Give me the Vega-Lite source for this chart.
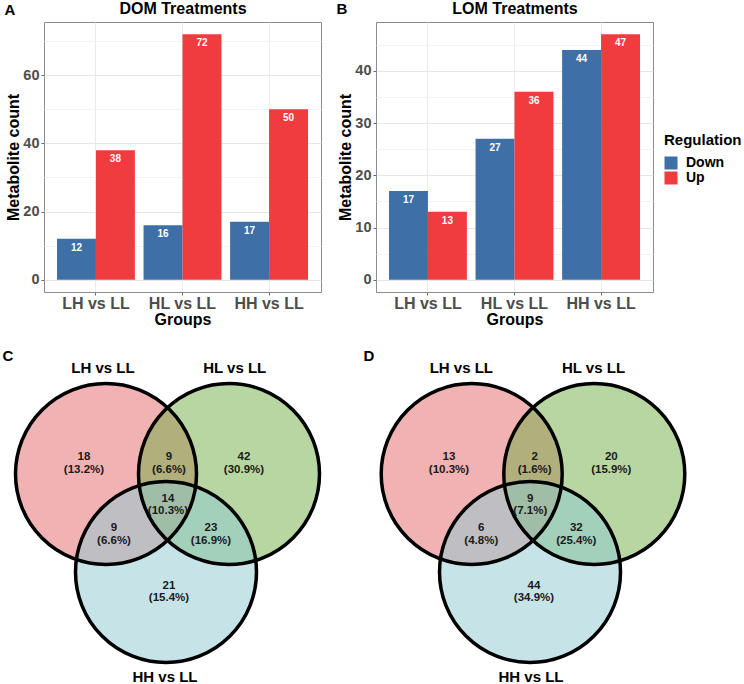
{
  "$schema": "https://vega.github.io/schema/vega-lite/v6.json",
  "padding": {"left": 2, "top": -1, "right": 0, "bottom": 0},
  "background": "white",
  "config": {
    "font": "Liberation Sans",
    "view": {"stroke": "#8c8c8c", "strokeWidth": 1},
    "axis": {"labelFont": "Liberation Sans", "titleFont": "Liberation Sans", "labelFontWeight": "bold", "titleFontWeight": "bold", "labelColor": "#4d4d4d", "titleColor": "#000000", "gridColor": "#ebebeb", "tickColor": "#666666", "domain": false},
    "legend": {"titleFont": "Liberation Sans", "labelFont": "Liberation Sans", "titleFontSize": 15, "titleFontWeight": "bold", "titleColor": "#000000", "labelFontSize": 14, "labelFontWeight": "bold", "labelColor": "#000000", "symbolType": "square", "symbolSize": 169, "symbolStrokeWidth": 0, "symbolOpacity": 1, "rowPadding": 1, "titlePadding": 8, "labelOffset": 8},
    "text": {"font": "Liberation Sans"}
  },
  "resolve": {"scale": {"color": "independent"}},
  "spacing": 19,
  "vconcat": [
    {
      "spacing": 13,
      "hconcat": [
        {
          "width": 277, "height": 270,
          "data": {"values": [
            {"Group": "LH vs LL", "Regulation": "Down", "count": 12},
            {"Group": "LH vs LL", "Regulation": "Up", "count": 38},
            {"Group": "HL vs LL", "Regulation": "Down", "count": 16},
            {"Group": "HL vs LL", "Regulation": "Up", "count": 72},
            {"Group": "HH vs LL", "Regulation": "Down", "count": 17},
            {"Group": "HH vs LL", "Regulation": "Up", "count": 50}
          ]},
          "layer": [
            {
              "mark": {"type": "bar"},
              "encoding": {
                "x": {"field": "Group", "type": "nominal", "sort": ["LH vs LL", "HL vs LL", "HH vs LL"], "scale": {"paddingInner": 0.1, "paddingOuter": 0.15},
                      "axis": {"orient": "bottom", "title": "Groups", "labelAngle": 0, "labelFontSize": 16, "titleFontSize": 16, "tickSize": 3, "labelPadding": 0, "titlePadding": 0, "grid": true, "bandPosition": 0.5}},
                "xOffset": {"field": "Regulation", "type": "nominal", "sort": ["Down", "Up"], "scale": {"paddingInner": 0, "paddingOuter": 0}},
                "y": {"field": "count", "type": "quantitative", "stack": null, "scale": {"domain": [-3.6, 75.6], "nice": false, "zero": false},
                      "axis": {"title": "Metabolite count", "values": [0, 10, 20, 30, 40, 50, 60, 70], "labelExpr": "datum.value % 20 === 0 ? datum.label : ''", "labelFontSize": 14.5, "titleFontSize": 16, "tickSize": 3, "labelPadding": 2, "titlePadding": 1, "grid": true,
                               "gridColor": {"condition": {"test": "datum.value % 20 === 0", "value": "#e6e6e6"}, "value": "#f3f3f3"},
                               "tickOpacity": {"condition": {"test": "datum.value % 20 === 0", "value": 1}, "value": 0}}},
                "color": {"field": "Regulation", "type": "nominal", "scale": {"domain": ["Down", "Up"], "range": ["#3F6FA7", "#F03B3F"]},
                          "legend": {"orient": "none", "legendX": 620, "legendY": 111, "title": "Regulation"}}
              }
            },
            {
              "mark": {"type": "text", "color": "white", "fontWeight": "bold", "fontSize": 10, "baseline": "top", "dy": 4},
              "encoding": {
                "x": {"field": "Group", "type": "nominal", "sort": ["LH vs LL", "HL vs LL", "HH vs LL"], "scale": {"paddingInner": 0.1, "paddingOuter": 0.15},
                      "axis": {"orient": "top", "title": "DOM Treatments", "labels": false, "ticks": false, "grid": false, "domain": false, "titleFontSize": 16, "titlePadding": 9, "titleBaseline": "alphabetic"}},
                "xOffset": {"field": "Regulation", "type": "nominal", "sort": ["Down", "Up"], "scale": {"paddingInner": 0, "paddingOuter": 0}},
                "y": {"field": "count", "type": "quantitative", "stack": null, "scale": {"domain": [-3.6, 75.6], "nice": false, "zero": false},
                      "axis": {"orient": "left", "title": "A", "titleAngle": 0, "titleX": -40, "titleY": -8, "titleAlign": "left", "titleBaseline": "alphabetic", "titleFontSize": 15, "labels": false, "ticks": false, "grid": false, "domain": false}},
                "text": {"field": "count", "type": "quantitative"}
              }
            }
          ],
          "resolve": {"axis": {"x": "independent", "y": "independent"}}
        },
        {
          "width": 277, "height": 270,
          "data": {"values": [
            {"Group": "LH vs LL", "Regulation": "Down", "count": 17},
            {"Group": "LH vs LL", "Regulation": "Up", "count": 13},
            {"Group": "HL vs LL", "Regulation": "Down", "count": 27},
            {"Group": "HL vs LL", "Regulation": "Up", "count": 36},
            {"Group": "HH vs LL", "Regulation": "Down", "count": 44},
            {"Group": "HH vs LL", "Regulation": "Up", "count": 47}
          ]},
          "layer": [
            {
              "mark": {"type": "bar"},
              "encoding": {
                "x": {"field": "Group", "type": "nominal", "sort": ["LH vs LL", "HL vs LL", "HH vs LL"], "scale": {"paddingInner": 0.1, "paddingOuter": 0.15},
                      "axis": {"orient": "bottom", "title": "Groups", "labelAngle": 0, "labelFontSize": 16, "titleFontSize": 16, "tickSize": 3, "labelPadding": 0, "titlePadding": 0, "grid": true, "bandPosition": 0.5}},
                "xOffset": {"field": "Regulation", "type": "nominal", "sort": ["Down", "Up"], "scale": {"paddingInner": 0, "paddingOuter": 0}},
                "y": {"field": "count", "type": "quantitative", "stack": null, "scale": {"domain": [-2.35, 49.35], "nice": false, "zero": false},
                      "axis": {"title": "Metabolite count", "values": [0, 5, 10, 15, 20, 25, 30, 35, 40, 45], "labelExpr": "datum.value % 10 === 0 ? datum.label : ''", "labelFontSize": 14.5, "titleFontSize": 16, "tickSize": 3, "labelPadding": 2, "titlePadding": 1, "grid": true,
                               "gridColor": {"condition": {"test": "datum.value % 10 === 0", "value": "#e6e6e6"}, "value": "#f3f3f3"},
                               "tickOpacity": {"condition": {"test": "datum.value % 10 === 0", "value": 1}, "value": 0}}},
                "color": {"field": "Regulation", "type": "nominal", "scale": {"domain": ["Down", "Up"], "range": ["#3F6FA7", "#F03B3F"]},
                          "legend": {"orient": "none", "legendX": 620, "legendY": 111, "title": "Regulation"}}
              }
            },
            {
              "mark": {"type": "text", "color": "white", "fontWeight": "bold", "fontSize": 10, "baseline": "top", "dy": 4},
              "encoding": {
                "x": {"field": "Group", "type": "nominal", "sort": ["LH vs LL", "HL vs LL", "HH vs LL"], "scale": {"paddingInner": 0.1, "paddingOuter": 0.15},
                      "axis": {"orient": "top", "title": "LOM Treatments", "labels": false, "ticks": false, "grid": false, "domain": false, "titleFontSize": 16, "titlePadding": 9, "titleBaseline": "alphabetic"}},
                "xOffset": {"field": "Regulation", "type": "nominal", "sort": ["Down", "Up"], "scale": {"paddingInner": 0, "paddingOuter": 0}},
                "y": {"field": "count", "type": "quantitative", "stack": null, "scale": {"domain": [-2.35, 49.35], "nice": false, "zero": false},
                      "axis": {"orient": "left", "title": "B", "titleAngle": 0, "titleX": -40, "titleY": -9, "titleAlign": "left", "titleBaseline": "alphabetic", "titleFontSize": 15, "labels": false, "ticks": false, "grid": false, "domain": false}},
                "text": {"field": "count", "type": "quantitative"}
              }
            }
          ],
          "resolve": {"axis": {"x": "independent", "y": "independent"}}
        }
      ]
    },
    {
      "spacing": 0,
      "hconcat": [
        {
          "width": 317, "height": 336,
          "view": {"stroke": null},
          "layer": [
            {
              "data": {"values": [
                {"set": "LH vs LL", "cx": 105, "cy": 127},
                {"set": "HL vs LL", "cx": 228, "cy": 127},
                {"set": "HH vs LL", "cx": 165, "cy": 225}
              ]},
              "mark": {"type": "point", "shape": "circle", "filled": true, "size": 32761, "fillOpacity": 0.5, "strokeWidth": 0},
              "encoding": {
                "x": {"field": "cx", "type": "quantitative", "scale": {"domain": [43, 360], "nice": false, "zero": false}, "axis": null},
                "y": {"field": "cy", "type": "quantitative", "scale": {"domain": [0, 336], "nice": false, "zero": false, "reverse": true}, "axis": null},
                "color": {"field": "set", "type": "nominal", "scale": {"domain": ["LH vs LL", "HL vs LL", "HH vs LL"], "range": ["#E16565", "#71AD45", "#8DC9D1"]}, "legend": null}
              }
            },
            {
              "data": {"values": [
                {"set": "LH vs LL", "cx": 105, "cy": 127},
                {"set": "HL vs LL", "cx": 228, "cy": 127},
                {"set": "HH vs LL", "cx": 165, "cy": 225}
              ]},
              "mark": {"type": "point", "shape": "circle", "filled": false, "size": 32761, "stroke": "black", "strokeWidth": 3.5, "opacity": 1},
              "encoding": {
                "x": {"field": "cx", "type": "quantitative", "axis": null},
                "y": {"field": "cy", "type": "quantitative", "axis": null}
              }
            },
            {
              "data": {"values": [
                {"label": "18\n(13.2%)", "lx": 83, "ly": 110.25},
                {"label": "9\n(6.6%)", "lx": 168, "ly": 110.25},
                {"label": "42\n(30.9%)", "lx": 243, "ly": 110.25},
                {"label": "14\n(10.3%)", "lx": 167, "ly": 151.5},
                {"label": "9\n(6.6%)", "lx": 113, "ly": 181},
                {"label": "23\n(16.9%)", "lx": 210, "ly": 181},
                {"label": "21\n(15.4%)", "lx": 168, "ly": 238.5}
              ]},
              "mark": {"type": "text", "fontSize": 11.5, "fontWeight": "bold", "lineBreak": "\n", "lineHeight": 12.5, "color": "#1a1a1a", "baseline": "middle", "align": "center"},
              "encoding": {
                "x": {"field": "lx", "type": "quantitative", "axis": null},
                "y": {"field": "ly", "type": "quantitative", "axis": null},
                "text": {"field": "label", "type": "nominal"}
              }
            },
            {
              "data": {"values": [
                {"name": "LH vs LL", "lx": 102, "ly": 20.5},
                {"name": "HL vs LL", "lx": 233.7, "ly": 20.5},
                {"name": "HH vs LL", "lx": 164, "ly": 329.5}
              ]},
              "mark": {"type": "text", "fontSize": 15, "fontWeight": "bold", "color": "#000000", "baseline": "middle", "align": "center"},
              "encoding": {
                "x": {"field": "lx", "type": "quantitative", "axis": null},
                "y": {"field": "ly", "type": "quantitative", "axis": null},
                "text": {"field": "name", "type": "nominal"}
              }
            },
            {
              "data": {"values": [{"letter": "C", "lx": 7, "ly": 9}]},
              "mark": {"type": "text", "fontSize": 15, "fontWeight": "bold", "color": "#000000", "baseline": "middle", "align": "center"},
              "encoding": {
                "x": {"field": "lx", "type": "quantitative", "axis": null},
                "y": {"field": "ly", "type": "quantitative", "axis": null},
                "text": {"field": "letter", "type": "nominal"}
              }
            }
          ]
        },
        {
          "width": 384, "height": 336,
          "view": {"stroke": null},
          "layer": [
            {
              "data": {"values": [
                {"set": "LH vs LL", "cx": 110.7, "cy": 127},
                {"set": "HL vs LL", "cx": 233.3, "cy": 127},
                {"set": "HH vs LL", "cx": 169, "cy": 225}
              ]},
              "mark": {"type": "point", "shape": "circle", "filled": true, "size": 32761, "fillOpacity": 0.5, "strokeWidth": 0},
              "encoding": {
                "x": {"field": "cx", "type": "quantitative", "scale": {"domain": [0, 384], "nice": false, "zero": false}, "axis": null},
                "y": {"field": "cy", "type": "quantitative", "scale": {"domain": [0, 336], "nice": false, "zero": false, "reverse": true}, "axis": null},
                "color": {"field": "set", "type": "nominal", "scale": {"domain": ["LH vs LL", "HL vs LL", "HH vs LL"], "range": ["#E16565", "#71AD45", "#8DC9D1"]}, "legend": null}
              }
            },
            {
              "data": {"values": [
                {"set": "LH vs LL", "cx": 110.7, "cy": 127},
                {"set": "HL vs LL", "cx": 233.3, "cy": 127},
                {"set": "HH vs LL", "cx": 169, "cy": 225}
              ]},
              "mark": {"type": "point", "shape": "circle", "filled": false, "size": 32761, "stroke": "black", "strokeWidth": 3.5, "opacity": 1},
              "encoding": {
                "x": {"field": "cx", "type": "quantitative", "axis": null},
                "y": {"field": "cy", "type": "quantitative", "axis": null}
              }
            },
            {
              "data": {"values": [
                {"label": "13\n(10.3%)", "lx": 88, "ly": 110.25},
                {"label": "2\n(1.6%)", "lx": 173.7, "ly": 110.25},
                {"label": "20\n(15.9%)", "lx": 250.3, "ly": 110.25},
                {"label": "9\n(7.1%)", "lx": 169.3, "ly": 151.5},
                {"label": "6\n(4.8%)", "lx": 120.3, "ly": 181},
                {"label": "32\n(25.4%)", "lx": 215.3, "ly": 181},
                {"label": "44\n(34.9%)", "lx": 173, "ly": 238.5}
              ]},
              "mark": {"type": "text", "fontSize": 11.5, "fontWeight": "bold", "lineBreak": "\n", "lineHeight": 12.5, "color": "#1a1a1a", "baseline": "middle", "align": "center"},
              "encoding": {
                "x": {"field": "lx", "type": "quantitative", "axis": null},
                "y": {"field": "ly", "type": "quantitative", "axis": null},
                "text": {"field": "label", "type": "nominal"}
              }
            },
            {
              "data": {"values": [
                {"name": "LH vs LL", "lx": 100.3, "ly": 20.5},
                {"name": "HL vs LL", "lx": 232.5, "ly": 20.5},
                {"name": "HH vs LL", "lx": 170, "ly": 329.5}
              ]},
              "mark": {"type": "text", "fontSize": 15, "fontWeight": "bold", "color": "#000000", "baseline": "middle", "align": "center"},
              "encoding": {
                "x": {"field": "lx", "type": "quantitative", "axis": null},
                "y": {"field": "ly", "type": "quantitative", "axis": null},
                "text": {"field": "name", "type": "nominal"}
              }
            },
            {
              "data": {"values": [{"letter": "D", "lx": 8, "ly": 9}]},
              "mark": {"type": "text", "fontSize": 15, "fontWeight": "bold", "color": "#000000", "baseline": "middle", "align": "center"},
              "encoding": {
                "x": {"field": "lx", "type": "quantitative", "axis": null},
                "y": {"field": "ly", "type": "quantitative", "axis": null},
                "text": {"field": "letter", "type": "nominal"}
              }
            }
          ]
        }
      ]
    }
  ]
}
